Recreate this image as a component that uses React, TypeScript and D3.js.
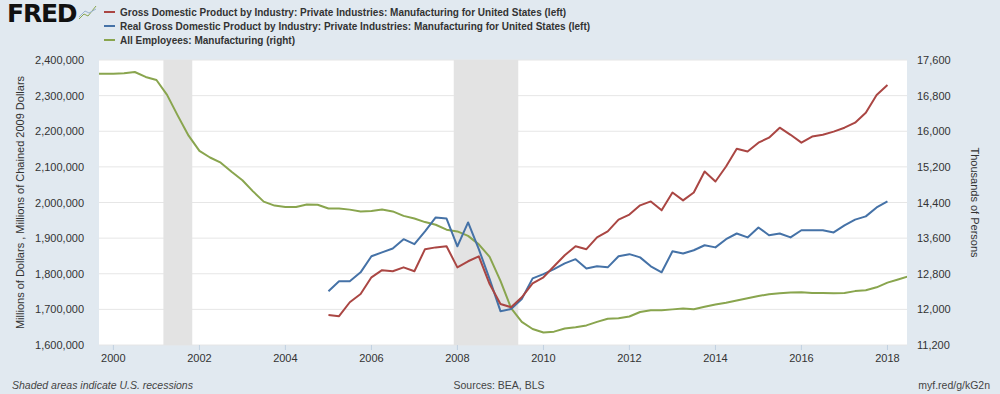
import * as d3 from "d3";

const W = 1000;
const H = 394;
const marginTop = 60;
const marginBottom = 49;
const marginLeft = 99;
const marginRight = 93;

// quarterly, starting 2005 Q1, millions of dollars (thousands shown)
const nominalGdp = [
	1684, 1681, 1720, 1743, 1790, 1810, 1807, 1818, 1807, 1869, 1874, 1877,
	1818, 1835, 1849, 1771, 1715, 1706, 1734, 1773, 1790, 1821, 1852, 1877,
	1869, 1902, 1919, 1952, 1966, 1992, 2003, 1978, 2028, 2006, 2028, 2087,
	2059, 2101, 2151, 2143, 2168, 2182, 2210, 2190, 2168, 2185, 2190, 2199,
	2210, 2224, 2252, 2302, 2330,
];
const realGdp = [
	1751, 1779, 1779, 1804, 1849, 1860, 1871, 1897, 1883, 1919, 1958, 1955,
	1877, 1944, 1869, 1785, 1695, 1701, 1729, 1787, 1799, 1813, 1829, 1841,
	1815, 1821, 1818, 1849, 1855, 1846, 1821, 1804, 1863, 1857, 1866, 1880,
	1874, 1897, 1913, 1902, 1930, 1908, 1913, 1902, 1922, 1922, 1922, 1916,
	1936, 1952, 1961, 1986, 2003,
];
// every 3 months, starting July 1999, thousands of persons
const employees = [
	17290, 17290, 17290, 17300, 17331, 17220, 17150, 16817, 16350, 15900,
	15560, 15410, 15295, 15090, 14900, 14650, 14420, 14330, 14300, 14300,
	14355, 14350, 14265, 14265, 14240, 14200, 14210, 14243, 14200, 14100,
	14040, 13960, 13900, 13790, 13750, 13650, 13460, 13180, 12640, 12030,
	11720, 11560, 11480, 11500, 11570, 11600, 11640, 11720, 11790, 11800,
	11840, 11940, 11980, 11980, 12000, 12020, 12005, 12060, 12110, 12150,
	12200, 12250, 12300, 12340, 12360, 12380, 12385, 12365, 12370, 12360,
	12370, 12410, 12430, 12495, 12600, 12670, 12743,
];
const recessions = [
	["2001-03-01", "2001-11-01"],
	["2007-12-01", "2009-06-01"],
];
const legendLabels = [
	"Gross Domestic Product by Industry: Private Industries: Manufacturing for United States (left)",
	"Real Gross Domestic Product by Industry: Private Industries: Manufacturing for United States (left)",
	"All Employees: Manufacturing (right)",
];
const colors = ["#aa4643", "#4572a7", "#89a54e"];
const leftTicks = [1600000, 1700000, 1800000, 1900000, 2000000, 2100000, 2200000, 2300000, 2400000];
const rightTicks = [11200, 12000, 12800, 13600, 14400, 15200, 16000, 16800, 17600];
const yearTicks = [2000, 2002, 2004, 2006, 2008, 2010, 2012, 2014, 2016, 2018];

const font = "'Liberation Sans', Arial, sans-serif";

export default function App() {
	const x = d3
		.scaleTime()
		.domain([new Date(1999, 8, 1), new Date(2018, 5, 16)])
		.range([marginLeft, W - marginRight]);
	const yLeft = d3
		.scaleLinear()
		.domain([1600000, 2400000])
		.range([H - marginBottom, marginTop]);
	const yRight = d3
		.scaleLinear()
		.domain([11200, 17600])
		.range([H - marginBottom, marginTop]);

	const gdpDate = (i: number) => d3.timeMonth.offset(new Date(2005, 0, 1), 3 * i);
	const empDate = (i: number) => d3.timeMonth.offset(new Date(1999, 6, 1), 3 * i);

	const leftLine = d3
		.line<number>()
		.x((_, i) => x(gdpDate(i)))
		.y((d) => yLeft(d * 1000));
	const rightLine = d3
		.line<number>()
		.x((_, i) => x(empDate(i)))
		.y((d) => yRight(d));

	const parse = d3.timeParse("%Y-%m-%d");

	return (
		<svg
			width={W}
			height={H}
			style={{ position: "absolute", left: 0, top: 0, fontFamily: font }}
		>
			<rect width={W} height={H} fill="#e1e9f0" />
			<defs>
				<clipPath id="plot">
					<rect
						x={marginLeft}
						y={marginTop}
						width={W - marginLeft - marginRight}
						height={H - marginTop - marginBottom}
					/>
				</clipPath>
			</defs>

			{/* header */}
			<text x={7} y={22} fontSize={25} fontWeight={900} fill="#111" fontFamily="'DejaVu Sans', sans-serif" letterSpacing={-1.2}>
				FRED
			</text>
			<g fill="none" strokeWidth={1}>
				<path d="M79,19 L84,14 L88,16 L96,6" stroke="#89a54e" />
				<path d="M79,17 L85,11 L89,13 L96,9" stroke="#9ab3cf" />
			</g>
			{legendLabels.map((label, i) => (
				<g key={label} transform={`translate(0,${12 + i * 14})`}>
					<line x1={104} x2={115} y1={0} y2={0} stroke={colors[i]} strokeWidth={2} />
					<text x={120} y={3.5} fontSize={10} fontWeight="bold" fill="#333">
						{label}
					</text>
				</g>
			))}

			{/* plot */}
			<rect
				x={marginLeft}
				y={marginTop}
				width={W - marginLeft - marginRight}
				height={H - marginTop - marginBottom}
				fill="#fff"
			/>
			<g stroke="#e6e6e6" strokeWidth={1}>
				{leftTicks.map((t) => (
					<line key={t} x1={marginLeft} x2={W - marginRight} y1={yLeft(t)} y2={yLeft(t)} />
				))}
			</g>
			<g clipPath="url(#plot)">
				{recessions.map(([a, b]) => (
					<rect
						key={a}
						x={x(parse(a)!)}
						width={x(parse(b)!) - x(parse(a)!)}
						y={marginTop}
						height={H - marginTop - marginBottom}
						fill="#e3e3e3"
					/>
				))}
				<g fill="none" strokeWidth={2} strokeLinejoin="round">
					<path d={rightLine(employees)!} stroke={colors[2]} />
					<path d={leftLine(realGdp)!} stroke={colors[1]} />
					<path d={leftLine(nominalGdp)!} stroke={colors[0]} />
				</g>
			</g>

			{/* axes */}
			<g fontSize={11} fill="#333">
				{leftTicks.map((t) => (
					<text key={t} x={84} y={yLeft(t) + 4} textAnchor="end">
						{d3.format(",")(t)}
					</text>
				))}
				{rightTicks.map((t) => (
					<text key={t} x={917} y={yRight(t) + 4}>
						{d3.format(",")(t)}
					</text>
				))}
				{yearTicks.map((t) => (
					<g key={t}>
						<line
							x1={x(new Date(t, 0, 1))}
							x2={x(new Date(t, 0, 1))}
							y1={H - marginBottom}
							y2={H - marginBottom + 5}
							stroke="#c0d0e0"
						/>
						<text x={x(new Date(t, 0, 1))} y={362} textAnchor="middle">
							{t}
						</text>
					</g>
				))}
				<text
					transform={`translate(24,${(marginTop + H - marginBottom) / 2}) rotate(-90)`}
					textAnchor="middle"
				>
					Millions of Dollars , Millions of Chained 2009 Dollars
				</text>
				<text
					transform={`translate(971,${(marginTop + H - marginBottom) / 2}) rotate(90)`}
					textAnchor="middle"
				>
					Thousands of Persons
				</text>
			</g>

			{/* footer */}
			<g fontSize={10.5} fill="#444">
				<text x={12} y={389} fontStyle="italic">
					Shaded areas indicate U.S. recessions
				</text>
				<text x={499} y={389} textAnchor="middle">
					Sources: BEA, BLS
				</text>
				<text x={990} y={389} textAnchor="end">
					myf.red/g/kG2n
				</text>
			</g>
		</svg>
	);
}
